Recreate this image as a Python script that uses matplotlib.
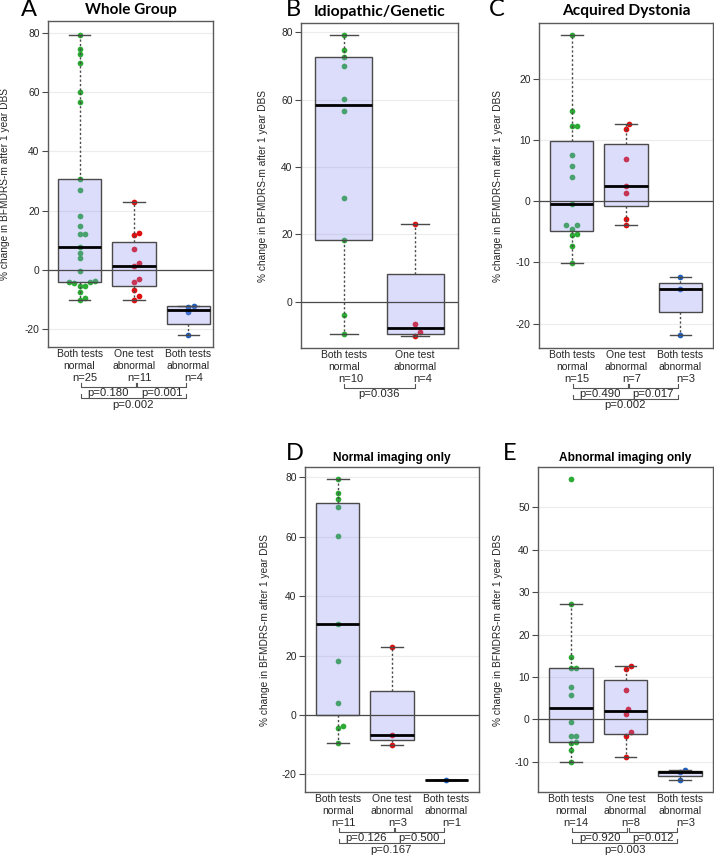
import numpy as np
import matplotlib
matplotlib.use("Agg")
import matplotlib.pyplot as plt
from matplotlib.transforms import blended_transform_factory

# ---------------- data ----------------
categories = [["Both tests", "normal"], ["One test", "abnormal"], ["Both tests", "abnormal"]]
ylabel = "% change in BFMDRS-m after 1 year DBS"

# Panel A  Whole Group
A_both_normal = [79.2, 74.7, 72.8, 69.9, 60.1, 56.7, 30.7, 27.1, 18.3, 14.7, 12.2, 12.2, 7.6,
                 5.8, 4.0, -0.5, -3.8, -3.9, -3.9, -4.5, -5.3, -5.5, -7.3, -9.5, -10.1]
A_one_abnormal = [23.0, 12.6, 11.8, 6.9, 2.5, 1.4, -3.0, -3.9, -6.7, -8.9, -10.1]
A_both_abnormal = [-12.0, -12.4, -14.3, -21.9]
A_n = ["n=25", "n=11", "n=4"]
A_p = ["p=0.180", "p=0.001", "p=0.002"]

# Panel B  Idiopathic/Genetic
B_both_normal = [79.2, 74.7, 72.8, 69.9, 60.1, 56.7, 30.7, 18.3, -3.8, -9.5]
B_one_abnormal = [23.0, -6.7, -8.9, -10.1]
B_n = ["n=10", "n=4"]
B_p = ["p=0.036"]

# Panel C  Acquired Dystonia
C_both_normal = [27.1, 14.7, 12.2, 12.2, 7.6, 5.8, 4.0, -0.5, -3.9, -3.9, -4.5, -5.3, -5.5, -7.3, -10.1]
C_one_abnormal = [12.6, 11.8, 6.9, 2.5, 1.4, -3.0, -3.9]
C_both_abnormal = [-12.4, -14.3, -21.9]
C_n = ["n=15", "n=7", "n=3"]
C_p = ["p=0.490", "p=0.017", "p=0.002"]

# Panel D  Normal imaging only
D_both_normal = [79.2, 74.7, 72.8, 69.9, 60.1, 30.7, 18.3, 4.0, -3.8, -4.5, -9.5]
D_one_abnormal = [23.0, -6.7, -10.1]
D_both_abnormal = [-21.9]
D_n = ["n=11", "n=3", "n=1"]
D_p = ["p=0.126", "p=0.500", "p=0.167"]

# Panel E  Abnormal imaging only
E_both_normal = [56.7, 27.1, 14.7, 12.2, 12.2, 7.6, 5.8, -0.5, -3.9, -3.9, -5.3, -5.5, -7.3, -10.1]
E_one_abnormal = [12.6, 11.8, 6.9, 2.5, 1.4, -3.0, -3.9, -8.9]
E_both_abnormal = [-12.0, -12.4, -14.3]
E_n = ["n=14", "n=8", "n=3"]
E_p = ["p=0.920", "p=0.012", "p=0.003"]

# ---------------- style / layout ----------------
W, H = 714, 855
DPI = 100
GROUP_COLORS = ["#2cab35", "#e01010", "#1f62c4"]
BOX_FACE = (0.55, 0.55, 0.95, 0.30)
EDGE = "#4a4a4a"
TXT = "#262626"
SANS = ["Liberation Sans", "DejaVu Sans"]
TITLE_FONT = ["Lato", "DejaVu Sans"]

plt.rcParams["font.family"] = SANS

fig = plt.figure(figsize=(W / DPI, H / DPI), dpi=DPI)


def fivenum(x):
    x = np.sort(np.asarray(x, dtype=float))
    n = len(x)
    n4 = np.floor((n + 3) / 2) / 2
    d = np.array([1, n4, (n + 1) / 2, n + 1 - n4, n]) - 1
    return 0.5 * (x[np.floor(d).astype(int)] + x[np.ceil(d).astype(int)])


def box_stats(x):
    x = np.asarray(x, dtype=float)
    lo, q1, med, q3, hi = fivenum(x)
    iqr = q3 - q1
    up = x[x <= q3 + 1.5 * iqr].max()
    dn = x[x >= q1 - 1.5 * iqr].min()
    return dict(med=med, q1=q1, q3=q3, whislo=dn, whishi=up, fliers=[])


def swarm(vals, xc, px_x, px_y, dmin=5.2):
    order = np.argsort(vals)
    placed = []
    xs = np.zeros(len(vals))
    cands = [0]
    for j in range(1, 10):
        cands += [j, -j]
    for i in order:
        v = vals[i]
        off = 0.0
        for c in cands:
            off = c * 0.5 * dmin
            ok = True
            for (po, pv) in placed:
                dx = off - po
                dy = (v - pv) * px_y
                if dx * dx + dy * dy < dmin * dmin:
                    ok = False
                    break
            if ok:
                break
        placed.append((off, v))
        xs[i] = xc + off / px_x
    return xs


def panel(rect_px, groups, xlim, ylim, yticks, title, title_font, title_size, title_y,
          letter, letter_xy, ylabel_x, nlabels, pvals):
    x0, y0, x1, y1 = rect_px
    ax = fig.add_axes([x0 / W, 1 - y1 / H, (x1 - x0) / W, (y1 - y0) / H])
    ax.set_xlim(*xlim)
    ax.set_ylim(*ylim)
    ax_w, ax_h = x1 - x0, y1 - y0
    px_x = ax_w / (xlim[1] - xlim[0])
    px_y = ax_h / (ylim[1] - ylim[0])
    positions = np.arange(1, len(groups) + 1)

    # points (under the translucent boxes)
    for k, g in enumerate(groups):
        vals = np.asarray(g, dtype=float)
        xs = swarm(vals, positions[k], px_x, px_y)
        ax.scatter(xs, vals, s=17, color=GROUP_COLORS[k], linewidths=0, zorder=2)

    stats = [box_stats(g) for g in groups]
    ax.bxp(stats, positions=positions, widths=0.8, capwidths=0.4, patch_artist=True,
           showfliers=False, manage_ticks=False, zorder=3,
           boxprops=dict(facecolor=BOX_FACE, edgecolor=EDGE, linewidth=1.0),
           whiskerprops=dict(color=EDGE, linewidth=1.0, linestyle=(0, (1.6, 1.6))),
           capprops=dict(color=EDGE, linewidth=1.0),
           medianprops=dict(color="black", linewidth=2.0, solid_capstyle="butt"))

    ax.axhline(0, color=EDGE, linewidth=0.9, zorder=4)
    ax.set_yticks(yticks)
    ax.set_yticklabels([f"{t:g}" for t in yticks])
    ax.yaxis.grid(True, color="#ececec", linewidth=0.8)
    ax.set_axisbelow(True)
    ax.set_xticks([])
    ax.tick_params(axis="y", length=4, width=0.8, color=EDGE, labelsize=7.4, labelcolor=TXT, pad=2)
    for s in ax.spines.values():
        s.set_color("#5a5a5a")
        s.set_linewidth(1.0)

    trans = blended_transform_factory(ax.transData, ax.transAxes)

    def yb(px):
        return -px / ax_h

    for k, pos in enumerate(positions):
        ax.text(pos, yb(7), categories[k][0], transform=trans, ha="center", va="center",
                fontsize=7.5, color=TXT)
        ax.text(pos, yb(19), categories[k][1], transform=trans, ha="center", va="center",
                fontsize=7.5, color=TXT)
        ax.text(pos + 0.1, yb(31), nlabels[k], transform=trans, ha="center", va="center",
                fontsize=8.0, color=TXT)

    def bracket(xa, xb, line_px, text, text_px):
        ax.plot([xa, xa, xb, xb], [yb(line_px - 4), yb(line_px), yb(line_px), yb(line_px - 4)],
                transform=trans, clip_on=False, color="#555555", linewidth=0.8)
        ax.text((xa + xb) / 2, yb(text_px), text, transform=trans, ha="center", va="center",
                fontsize=8.2, color=TXT)

    if len(positions) == 2:
        bracket(1.0, 2.0, 40, pvals[0], 46)
    else:
        bracket(1.03, 2.03, 40, pvals[0], 46)
        bracket(2.06, 2.95, 40, pvals[1], 46)
        bracket(1.03, 2.95, 51, pvals[2], 57.5)

    # title, letter, y label
    fig.text((x0 + x1) / 2 / W, 1 - title_y / H, title, ha="center", va="center",
             fontsize=title_size, fontweight="bold", family=title_font, color="black")
    fig.text(letter_xy[0] / W, 1 - letter_xy[1] / H, letter, ha="left", va="center",
             fontsize=17, family=["Lato", "DejaVu Sans"], color="black")
    fig.text(ylabel_x / W, 1 - (y0 + y1) / 2 / H, ylabel, rotation=90, ha="center", va="center",
             fontsize=7.3, color=TXT)
    return ax


panel((48, 21, 213, 347), [A_both_normal, A_one_abnormal, A_both_abnormal],
      (0.42, 3.45), (-26.0, 84.0), [-20, 0, 20, 40, 60, 80],
      "Whole Group", TITLE_FONT, 11.0, 10, "A", (21, 9), 5, A_n, A_p)

panel((301, 23, 458, 348), [B_both_normal, B_one_abnormal],
      (0.4, 2.6), (-13.75, 82.8), [0, 20, 40, 60, 80],
      "Idiopathic/Genetic", TITLE_FONT, 11.3, 12, "B", (286, 9), 263.5, B_n, B_p)

panel((539, 23, 713, 348), [C_both_normal, C_one_abnormal, C_both_abnormal],
      (0.4, 3.6), (-24.0, 29.1), [-20, -10, 0, 10, 20],
      "Acquired Dystonia", TITLE_FONT, 11.2, 11, "C", (489, 9), 498, C_n, C_p)

panel((305, 467, 479, 792), [D_both_normal, D_one_abnormal, D_both_abnormal],
      (0.4, 3.6), (-25.9, 83.4), [-20, 0, 20, 40, 60, 80],
      "Normal imaging only", SANS, 8.6, 458, "D", (286, 453), 265, D_n, D_p)

panel((538, 467, 713, 792), [E_both_normal, E_one_abnormal, E_both_abnormal],
      (0.4, 3.6), (-17.1, 59.5), [-10, 0, 10, 20, 30, 40, 50],
      "Abnormal imaging only", SANS, 8.6, 458, "E", (503, 453), 498, E_n, E_p)

fig.savefig("out.png", dpi=DPI)
